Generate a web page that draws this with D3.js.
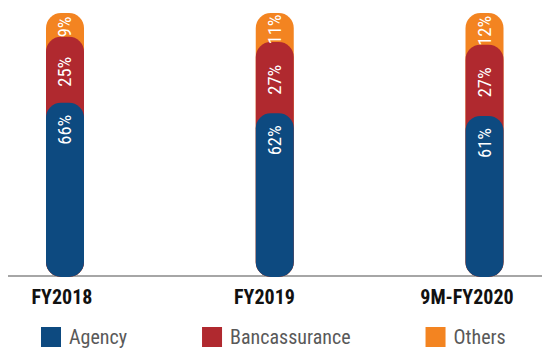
<!DOCTYPE html>
<html>
<head>
<meta charset="utf-8">
<script src="https://cdn.jsdelivr.net/npm/d3@7"></script>
<style>
  html, body { margin: 0; padding: 0; background: #fff; }
  svg { display: block; }
  text { font-family: "Roboto Condensed", "Liberation Sans Narrow", "Arial Narrow", "DejaVu Sans Condensed", sans-serif; font-stretch: condensed; }
</style>
</head>
<body>
<svg id="chart" width="542" height="348"></svg>
<script>
// Channel mix by period (percent of total)
const categories = ["FY2018", "FY2019", "9M-FY2020"];
const seriesNames = ["Agency", "Bancassurance", "Others"];
const agency = [66, 62, 61];
const bancassurance = [25, 27, 27];
const others = [9, 11, 12];
const colors = ["#0d4a80", "#b0292f", "#f38421"];

const rows = categories.map((c, i) => ({
  cat: c,
  Agency: agency[i],
  Bancassurance: bancassurance[i],
  Others: others[i]
}));

const svg = d3.select("#chart");
const W = 542;
const baseY = 277, topY = 13;
const barW = 38, radius = 15;

const x = d3.scalePoint().domain(categories).range([65, 484.5]);
const xLabel = d3.scalePoint().domain(categories).range([62, 467]);
const y = d3.scaleLinear().domain([0, 100]).range([baseY, topY]);
const color = d3.scaleOrdinal().domain(seriesNames).range(colors);

const stacked = d3.stack().keys(seriesNames)(rows);

// baseline
svg.append("line")
  .attr("x1", 8).attr("x2", W)
  .attr("y1", 276).attr("y2", 276)
  .attr("stroke", "#a6a6a6").attr("stroke-width", 2);

// each segment is a pill from the baseline up to its cumulative top;
// draw the tallest first so lower segments overlap with rounded tops
const bars = svg.append("g");
stacked.slice().reverse().forEach(layer => {
  bars.selectAll(null)
    .data(layer)
    .enter().append("rect")
    .attr("x", d => x(d.data.cat) - barW / 2)
    .attr("width", barW)
    .attr("y", d => y(d[1]))
    .attr("height", d => y(0) - y(d[1]))
    .attr("rx", radius).attr("ry", radius)
    .attr("fill", color(layer.key));
});

// value labels, rotated inside segments
stacked.forEach((layer, li) => {
  svg.append("g").selectAll("text")
    .data(layer)
    .enter().append("text")
    .attr("transform", d => {
      const cx = x(d.data.cat);
      const cy = li === 0 ? y(d[1]) + 27 : (y(d[1]) + y(d[0])) / 2 + 2;
      return `translate(${cx},${cy}) rotate(-90)`;
    })
    .attr("text-anchor", "middle")
    .attr("dominant-baseline", "central")
    .attr("fill", "#fff")
    .attr("font-size", 18.5)
    .text(d => (d[1] - d[0]) + "%");
});

// category labels
svg.append("g").selectAll("text")
  .data(categories)
  .enter().append("text")
  .attr("x", d => xLabel(d))
  .attr("y", 304)
  .attr("text-anchor", "middle")
  .attr("font-size", 20)
  .attr("font-weight", "bold")
  .attr("fill", "#111")
  .text(d => d);

// legend
const legend = svg.append("g");
let lx = 41;
seriesNames.forEach(name => {
  legend.append("rect")
    .attr("x", lx).attr("y", 327)
    .attr("width", 20).attr("height", 20)
    .attr("fill", color(name));
  const t = legend.append("text")
    .attr("x", lx + 28).attr("y", 344)
    .attr("font-size", 20)
    .attr("fill", "#595959")
    .text(name);
  lx += 28 + t.node().getComputedTextLength() + 75;
});
</script>
</body>
</html>
